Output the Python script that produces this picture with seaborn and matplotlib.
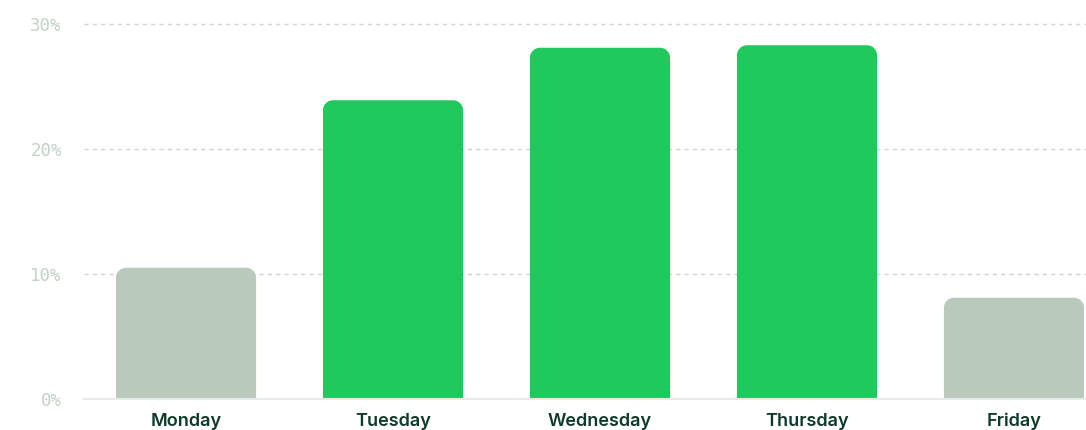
import matplotlib
matplotlib.use("Agg")
import matplotlib.pyplot as plt
import seaborn as sns
import pandas as pd
from matplotlib.path import Path
from matplotlib.patches import PathPatch

days = ["Monday", "Tuesday", "Wednesday", "Thursday", "Friday"]
shares = [10.5, 23.9, 28.1, 28.3, 8.1]
highlight = [False, True, True, True, False]
yticks = [0, 10, 20, 30]
ytick_labels = ["0%", "10%", "20%", "30%"]

GREEN = "#20c95c"
GREY = "#b9cabc"
TICK_C = "#c2d2c5"
LABEL_C = "#0e3b28"

sns.set_theme(style="white")
plt.rcParams["font.family"] = ["Inter", "DejaVu Sans"]

W, H = 1086, 430
fig = plt.figure(figsize=(W / 100, H / 100), dpi=100)
left, right, bottom_px = 84, 1086, 399
unit = 12.5  # px per percent
ytop = 31
ax = fig.add_axes([left / W, (H - bottom_px) / H, (right - left) / W, ytop * unit / H])

df = pd.DataFrame({"day": days, "share": shares,
                   "grp": ["hi" if h else "lo" for h in highlight]})
sns.barplot(data=df, x="day", y="share", hue="grp", dodge=False,
            palette={"hi": GREEN, "lo": GREY}, width=0.677, ax=ax,
            legend=False, saturation=1)

ax.set_xlim(-0.493, 4.348)
ax.set_ylim(0, ytop)
fig.canvas.draw()

# replace rectangles by top-rounded shapes
r_px = 10
xpp = (ax.get_xlim()[1] - ax.get_xlim()[0]) / (right - left)
ypp = ytop / (ytop * unit)
rx, ry = r_px * xpp, r_px * ypp
k = 0.5523
for p in list(ax.patches):
    x0, y0 = p.get_x(), p.get_y()
    w, h = p.get_width(), p.get_height()
    if h <= 0:
        continue
    x1, y1 = x0 + w, y0 + h
    verts = [
        (x0, y0), (x0, y1 - ry),
        (x0, y1 - ry + k * ry), (x0 + rx - k * rx, y1), (x0 + rx, y1),
        (x1 - rx, y1),
        (x1 - rx + k * rx, y1), (x1, y1 - ry + k * ry), (x1, y1 - ry),
        (x1, y0), (x0, y0),
    ]
    codes = [Path.MOVETO, Path.LINETO,
             Path.CURVE4, Path.CURVE4, Path.CURVE4,
             Path.LINETO,
             Path.CURVE4, Path.CURVE4, Path.CURVE4,
             Path.LINETO, Path.CLOSEPOLY]
    pp = PathPatch(Path(verts, codes), facecolor=p.get_facecolor(),
                   edgecolor="none", zorder=2)
    p.remove()
    ax.add_patch(pp)

for v in yticks[1:]:
    ax.axhline(v, color="#cdd5cf", lw=1, ls=(0, (3, 3)), zorder=0)

for s in ["top", "right", "left"]:
    ax.spines[s].set_visible(False)
ax.spines["bottom"].set_color("#e8eae8")
ax.spines["bottom"].set_linewidth(1.5)
ax.spines["bottom"].set_zorder(3)

ax.set_yticks(yticks)
ax.set_yticklabels(ytick_labels, family="DejaVu Sans Mono", color=TICK_C, fontsize=12.5)
ax.tick_params(axis="y", length=0, pad=16)
ax.tick_params(axis="x", length=0, pad=10)
for t in ax.get_xticklabels():
    t.set_fontsize(13)
    t.set_fontweight("semibold")
    t.set_color(LABEL_C)
ax.set_xlabel("")
ax.set_ylabel("")
ax.grid(False)

fig.savefig("out.png", dpi=100)
